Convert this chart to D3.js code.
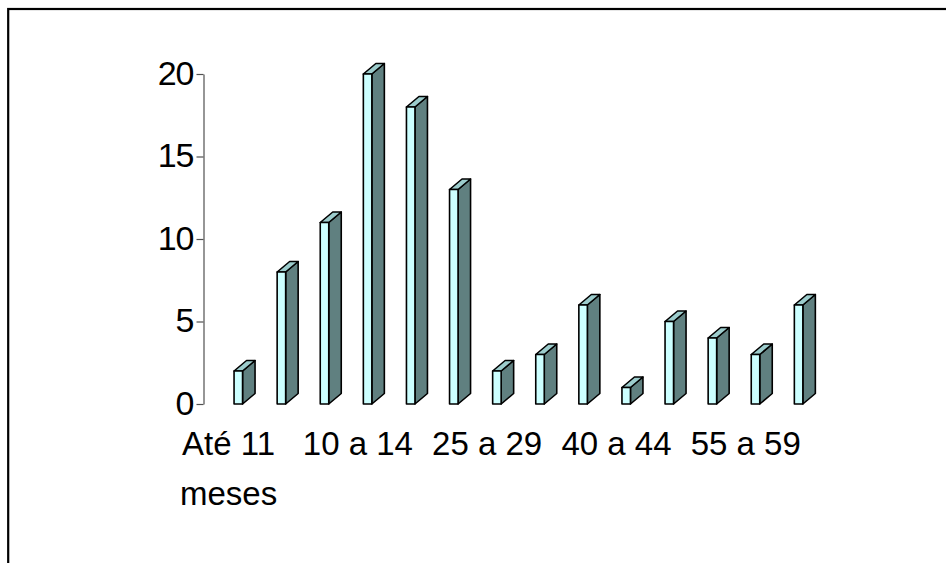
<!DOCTYPE html>
<html>
<head>
<meta charset="utf-8">
<script src="https://cdn.jsdelivr.net/npm/d3@7"></script>
<style>
  html, body { margin: 0; padding: 0; background: #fff; }
  svg { display: block; }
  text { font-family: "Liberation Sans", Arial, sans-serif; fill: #000; }
</style>
</head>
<body>
<div id="chart"></div>
<script>
// Age groups and counts
const categories = ["Até 11 meses", "1 a 4", "5 a 9", "10 a 14", "15 a 19", "20 a 24", "25 a 29",
                    "30 a 34", "35 a 39", "40 a 44", "45 a 49", "50 a 54", "55 a 59", "60 e mais"];
const values = [2, 8, 11, 20, 18, 13, 2, 3, 6, 1, 5, 4, 3, 6];
const yTicks = [0, 5, 10, 15, 20];
const labelEvery = 3; // only every third category label fits under the axis

const W = 946, H = 563;
const svg = d3.select("#chart").append("svg").attr("width", W).attr("height", H);

// Outer frame (runs off the right and bottom edges)
svg.append("rect")
  .attr("x", 8.2).attr("y", 9).attr("width", 1200).attr("height", 1200)
  .attr("fill", "none").attr("stroke", "#000").attr("stroke-width", 2.2);

const step = 43.1;
const x = d3.scaleBand().domain(categories).range([207, 207 + step * categories.length]).padding(0);
const y = d3.scaleLinear().domain([0, 20]).range([404, 74]);

// 3D bar geometry
const frontW = 8.5, depthX = 12.5, depthY = -10.5, barShift = 5.5;

// Y axis
const yAxis = d3.axisLeft(y).tickValues(yTicks).tickSize(7).tickSizeOuter(0).tickPadding(3);
const gy = svg.append("g").attr("transform", "translate(203.5,0)").call(yAxis);
gy.select(".domain").attr("stroke", "#505050").attr("stroke-width", 1.2);
gy.selectAll(".tick line").attr("stroke", "#505050").attr("stroke-width", 1.2);
gy.selectAll(".tick text")
  .attr("font-family", "'Liberation Sans', Arial, sans-serif")
  .attr("font-size", 34).attr("fill", "#000").attr("dy", "0.3em")
  .attr("letter-spacing", "-1");

// Bars
const data = categories.map((c, i) => ({ c, v: values[i] }));
const bars = svg.append("g").selectAll("g").data(data).join("g");
const stroke = { stroke: "#000", "stroke-width": 1.6, "stroke-linejoin": "round" };

function poly(sel, ptsFn, fill) {
  const p = sel.append("polygon")
    .attr("points", d => ptsFn(d).map(q => q.join(",")).join(" "))
    .attr("fill", fill);
  Object.entries(stroke).forEach(([k, v]) => p.attr(k, v));
}

const xl = d => x(d.c) + x.bandwidth() / 2 + barShift;
// side face
poly(bars, d => {
  const x1 = xl(d) + frontW, y0 = y(0), yt = y(d.v);
  return [[x1, y0], [x1 + depthX, y0 + depthY], [x1 + depthX, yt + depthY], [x1, yt]];
}, "#608080");
// top face
poly(bars, d => {
  const x0 = xl(d), x1 = x0 + frontW, yt = y(d.v);
  return [[x0, yt], [x0 + depthX, yt + depthY], [x1 + depthX, yt + depthY], [x1, yt]];
}, "#9ccccc");
// front face
poly(bars, d => {
  const x0 = xl(d), x1 = x0 + frontW, y0 = y(0), yt = y(d.v);
  return [[x0, y0], [x0, yt], [x1, yt], [x1, y0]];
}, "#ccffff");

// Category labels, wrapped to the space available
const lab = svg.append("g");
const maxW = step * labelEvery - 20;
const measure = lab.append("text").attr("font-size", 33);
function textW(s) { measure.text(s); return measure.node().getComputedTextLength(); }
categories.forEach((c, i) => {
  if (i % labelEvery !== 0) return;
  const words = c.split(" ");
  const lines = [];
  let cur = "";
  words.forEach(w => {
    const t = cur ? cur + " " + w : w;
    if (cur && textW(t) > maxW && /[^\d]/.test(w) && w.length > 2) { lines.push(cur); cur = w; }
    else cur = t;
  });
  lines.push(cur);
  const t = lab.append("text")
    .attr("font-size", 33)
    .attr("text-anchor", "middle");
  lines.forEach((ln, k) => {
    t.append("tspan").attr("x", x(c) + x.bandwidth() / 2).attr("y", 455 + k * 50).text(ln);
  });
});
measure.remove();
</script>
</body>
</html>
